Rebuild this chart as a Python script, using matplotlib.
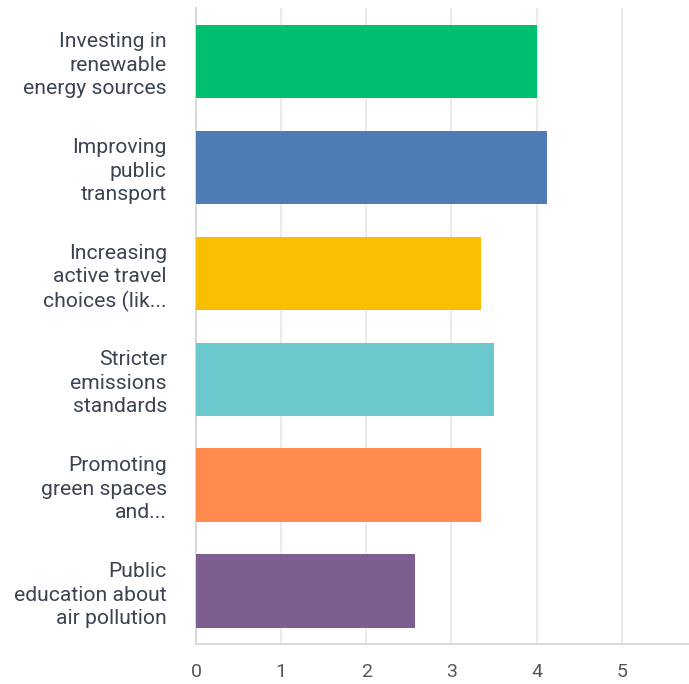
import matplotlib.pyplot as plt

# survey answers, top to bottom
labels = [
    "Investing in\nrenewable\nenergy sources",
    "Improving\npublic\ntransport",
    "Increasing\nactive travel\nchoices (lik...",
    "Stricter\nemissions\nstandards",
    "Promoting\ngreen spaces\nand...",
    "Public\neducation about\nair pollution",
]
averages = [4.01, 4.12, 3.35, 3.50, 3.35, 2.57]
colors = ["#00BF6F", "#507CB6", "#F9BE00", "#6BC8CD", "#FF8B4F", "#7D5E90"]
ticks = [0, 1, 2, 3, 4, 5]

plt.rcParams["font.family"] = ["Roboto", "DejaVu Sans"]

fig = plt.figure(figsize=(6.89, 6.84), dpi=100)
ax = fig.add_axes([0.2845, 0.0585, 0.7155, 0.9295])

pos = list(range(len(labels)))
ax.barh(pos, averages, height=0.69, color=colors, zorder=3)
ax.set_ylim(len(labels) - 0.5, -0.5)
ax.set_xlim(0, 5.79)

ax.set_yticks(pos)
ax.set_yticklabels(labels, fontsize=15.2, color="#3A4452", linespacing=1.3)
ax.set_xticks(ticks)
ax.set_xticklabels([str(t) for t in ticks], fontsize=14, color="#555555")
ax.tick_params(axis="y", length=0, pad=21)
ax.tick_params(axis="x", length=0, pad=14)

ax.grid(axis="x", color="#EBEBEB", linewidth=1.5, zorder=0)
for side in ["top", "right"]:
    ax.spines[side].set_visible(False)
for side in ["left", "bottom"]:
    ax.spines[side].set_color("#DADADA")
    ax.spines[side].set_linewidth(1.5)

fig.savefig("out.png", dpi=100)
